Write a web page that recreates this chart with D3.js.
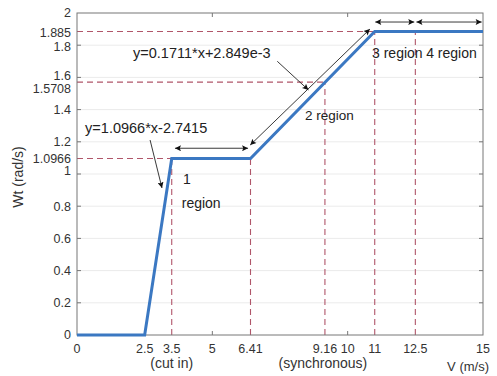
<!DOCTYPE html>
<html>
<head>
<meta charset="utf-8">
<script src="https://cdn.jsdelivr.net/npm/d3@7"></script>
<style>
  body { margin: 0; background: #fff; }
  text { font-family: "Liberation Sans", Arial, sans-serif; }
</style>
</head>
<body>
<div id="chart"></div>
<script>
/* rotor speed vs wind speed, 4 regions */

const curveV = [0, 2.5, 3.5, 6.41, 11, 15];
const curveW = [0, 0, 1.0966, 1.0966, 1.885, 1.885];

const xTickVals = [0, 2.5, 3.5, 5, 6.41, 9.16, 10, 11, 12.5, 15];
const yTickVals = [0, 0.2, 0.4, 0.6, 0.8, 1, 1.0966, 1.2, 1.4, 1.5708, 1.6, 1.8, 1.885, 2];
const xMajor = [0, 5, 10, 15];
const yMajor = [0, 0.2, 0.4, 0.6, 0.8, 1, 1.2, 1.4, 1.6, 1.8, 2];

// dashed guide lines
const guideV = [3.5, 6.41, 9.16, 11, 12.5];
const guideTop = [1.0966, 1.0966, 1.5708, 1.885, 1.885];
const guideH = [1.0966, 1.5708, 1.885];
const guideHEnd = [3.5, 9.16, 11];

const width = 497,
      height = 376,
      margin = ({top: 13, right: 14, bottom: 41, left: 77});

let svg = d3.select("#chart")
    .append("svg")
    .attr("width", width)
    .attr("height", height);

let x = d3.scaleLinear()
    .domain([0, 15])
    .range([margin.left, width - margin.right]);

let y = d3.scaleLinear()
    .domain([0, 2])
    .range([height - margin.bottom, margin.top]);

// arrow heads
let defs = svg.append("defs");
defs.append("marker")
    .attr("id", "head")
    .attr("viewBox", "0 0 10 10")
    .attr("refX", 10).attr("refY", 5)
    .attr("markerWidth", 9).attr("markerHeight", 6)
    .attr("markerUnits", "userSpaceOnUse")
    .attr("orient", "auto-start-reverse")
    .append("path")
    .attr("d", "M0,0 L10,5 L0,10 L2,5 Z")
    .attr("fill", "#111");

// grid
svg.append("g")
    .selectAll("line")
    .data(yMajor.slice(1, -1))
    .join("line")
    .attr("x1", x(0)).attr("x2", x(15))
    .attr("y1", d => y(d)).attr("y2", d => y(d))
    .attr("stroke", "#ebebeb");

// dashed guides
let dash = svg.append("g")
    .attr("stroke", "#b0566a")
    .attr("stroke-width", 1.1)
    .attr("stroke-dasharray", "6,4");

dash.selectAll(".gv")
    .data(guideV)
    .join("line")
    .attr("class", "gv")
    .attr("x1", d => x(d)).attr("x2", d => x(d))
    .attr("y1", y(0)).attr("y2", (d, i) => y(guideTop[i]));

dash.selectAll(".gh")
    .data(guideH)
    .join("line")
    .attr("class", "gh")
    .attr("x1", x(0)).attr("x2", (d, i) => x(guideHEnd[i]))
    .attr("y1", d => y(d)).attr("y2", d => y(d));

// axes box
let box = svg.append("g").attr("stroke", "#777").attr("fill", "none");
box.append("rect")
    .attr("x", x(0)).attr("y", y(2))
    .attr("width", x(15) - x(0)).attr("height", y(0) - y(2));

let tick = 4;
box.selectAll(".tx")
    .data(xMajor.slice(1, -1))
    .join("path")
    .attr("class", "tx")
    .attr("d", d => `M${x(d)},${y(0)}v${-tick}M${x(d)},${y(2)}v${tick}`);
box.selectAll(".ty")
    .data(yMajor.slice(1, -1))
    .join("path")
    .attr("class", "ty")
    .attr("d", d => `M${x(0)},${y(d)}h${tick}M${x(15)},${y(d)}h${-tick}`);

// tick labels
let yShift = {1: -3, 1.6: -2, 1.5708: 7, 1.885: 1, 1.8: 1};
svg.append("g")
    .selectAll("text")
    .data(yTickVals)
    .join("text")
    .attr("x", x(0) - 6)
    .attr("y", d => y(d) + (yShift[d] || 0))
    .attr("dy", "0.35em")
    .attr("text-anchor", "end")
    .attr("font-size", 12.5)
    .attr("fill", "#333")
    .text(d => d);

svg.append("g")
    .selectAll("text")
    .data(xTickVals)
    .join("text")
    .attr("x", d => x(d))
    .attr("y", y(0) + 18)
    .attr("text-anchor", "middle")
    .attr("font-size", 12.5)
    .attr("fill", "#333")
    .text(d => d);

svg.append("text")
    .attr("x", x(3.5)).attr("y", y(0) + 33)
    .attr("text-anchor", "middle")
    .attr("font-size", 14).attr("fill", "#333")
    .text("(cut in)");

svg.append("text")
    .attr("x", x(9.16) - 2).attr("y", y(0) + 33)
    .attr("text-anchor", "middle")
    .attr("font-size", 14).attr("fill", "#333")
    .text("(synchronous)");

svg.append("text")
    .attr("x", x(15) + 6).attr("y", y(0) + 36)
    .attr("text-anchor", "end")
    .attr("font-size", 13).attr("fill", "#333")
    .text("V (m/s)");

svg.append("text")
    .attr("transform", `translate(23, ${y(1) + 3}) rotate(-90)`)
    .attr("text-anchor", "middle")
    .attr("font-size", 14).attr("fill", "#333")
    .text("Wt (rad/s)");

// main curve
svg.append("path")
    .datum(curveV.map((v, i) => [v, curveW[i]]))
    .attr("fill", "none")
    .attr("stroke", "#3b78c2")
    .attr("stroke-width", 3)
    .attr("stroke-linejoin", "miter")
    .attr("d", d3.line().x(d => x(d[0])).y(d => y(d[1])));

// arrows
let arrows = [
    [3.62, 1.16, 6.32, 1.16, true],
    [6.4, 1.18, 10.82, 1.9, true],
    [11.02, 1.944, 12.46, 1.944, true],
    [12.54, 1.944, 14.95, 1.944, true],
    [2.7, 1.211, 3.14, 0.913, false],
    [7.4, 1.7, 8.55, 1.522, false]
];
svg.append("g")
    .selectAll("line")
    .data(arrows)
    .join("line")
    .attr("x1", d => x(d[0])).attr("y1", d => y(d[1]))
    .attr("x2", d => x(d[2])).attr("y2", d => y(d[3]))
    .attr("stroke", "#222")
    .attr("stroke-width", 0.9)
    .attr("marker-end", "url(#head)")
    .attr("marker-start", d => d[4] ? "url(#head)" : null);

// annotations
let notes = [
    [0.3, 1.286, "y=1.0966*x-2.7415", 14.5],
    [2.07, 1.752, "y=0.1711*x+2.849e-3", 14.5],
    [3.92, 0.97, "1", 14],
    [3.87, 0.82, "region", 14],
    [8.42, 1.366, "2 region", 13.5],
    [10.9, 1.75, "3 region", 14],
    [12.9, 1.75, "4 region", 14]
];
svg.append("g")
    .selectAll("text")
    .data(notes)
    .join("text")
    .attr("x", d => x(d[0]))
    .attr("y", d => y(d[1]))
    .attr("dy", "0.35em")
    .attr("font-size", d => d[3])
    .attr("fill", "#222")
    .text(d => d[2]);
</script>
</body>
</html>
